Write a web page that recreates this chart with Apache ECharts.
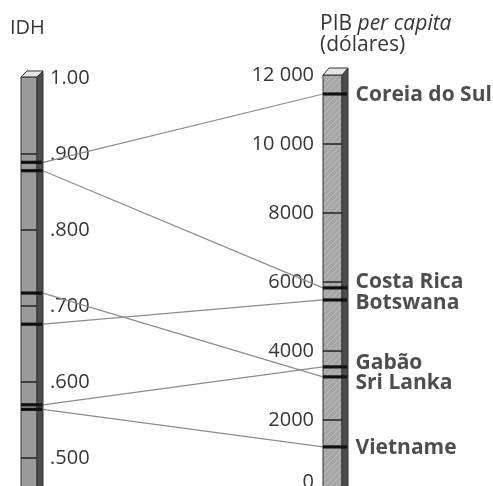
<!DOCTYPE html>
<html><head><meta charset="utf-8">
<script src="https://cdn.jsdelivr.net/npm/echarts@6/dist/echarts.min.js"></script>
<style>html,body{margin:0;padding:0;background:#fff;}#c{width:493px;height:486px;}</style>
</head><body><div id="c"></div>
<script>
// ---- data ----
const countries = ['Coreia do Sul', 'Costa Rica', 'Botswana', 'Gabão', 'Sri Lanka', 'Vietname'];
const idh = [0.889, 0.878, 0.676, 0.570, 0.717, 0.564];
const pib = [11450, 5830, 5480, 3540, 3250, 1220];
const idhTicks = [0.5, 0.6, 0.7, 0.8, 0.9, 1.0];
const idhTickLabels = ['.500', '.600', '.700', '.800', '.900', '1.00'];
const pibTicks = [0, 2000, 4000, 6000, 8000, 10000, 12000];
const pibTickLabels = ['0', '2000', '4000', '6000', '8000', '10 000', '12 000'];

// ---- styles ----
const FONT = 'Open Sans';
const TXT = '#363636';
const labelShift = [1, -6, 3, -4, 6, 1]; // vertical label nudges (px) to avoid overlap
const idhMin = 0.4592, idhMax = 1.0039;
const pibMin = 0, pibMax = 12000;

const pc = document.createElement('canvas'); pc.width = 6; pc.height = 6;
const g = pc.getContext('2d');
g.fillStyle = '#a6a6a6'; g.fillRect(0, 0, 6, 6);
g.strokeStyle = 'rgba(255,255,255,0.28)'; g.lineWidth = 1;
g.beginPath(); g.moveTo(-1, 7); g.lineTo(7, -1); g.stroke();
const hatch = { image: pc, repeat: 'repeat' };

const chart = echarts.init(document.getElementById('c'));

function bar3d(api, xLeft, frontW, sideW, depthY, yTop, yBot, frontFill, ticksY, marksY) {
  const fR = xLeft + frontW, sR = fR + sideW;
  const ch = [];
  ch.push({ type: 'rect', shape: { x: xLeft, y: yTop, width: frontW, height: yBot - yTop },
    style: { fill: frontFill, stroke: '#333', lineWidth: 1 } });
  ch.push({ type: 'polygon', shape: { points: [[fR, yTop], [sR, yTop - depthY], [sR, yBot], [fR, yBot]] },
    style: { fill: '#4d4d4d', stroke: '#333', lineWidth: 1 } });
  ch.push({ type: 'polygon', shape: { points: [[xLeft, yTop], [fR, yTop], [sR, yTop - depthY], [xLeft + sideW, yTop - depthY]] },
    style: { fill: '#e4e4e4', stroke: '#333', lineWidth: 1 } });
  ticksY.forEach(y => ch.push({ type: 'line', shape: { x1: xLeft, y1: y, x2: fR, y2: y },
    style: { stroke: '#222', lineWidth: 1.5 } }));
  marksY.forEach(y => ch.push({ type: 'line', shape: { x1: xLeft, y1: y, x2: sR - 1, y2: y },
    style: { stroke: '#111', lineWidth: 3.2 } }));
  return { type: 'group', children: ch };
}

const option = {
  animation: false,
  backgroundColor: '#fff',
  title: [
    { text: 'IDH', left: 10, top: 18, padding: 0,
      textStyle: { fontFamily: FONT, fontSize: 20, fontWeight: 'normal', color: TXT, lineHeight: 20 } },
    { text: '{n|PIB }{i|per capita}\n{n|(dólares)}', left: 320, top: 14, padding: 0,
      textStyle: { fontFamily: FONT, fontSize: 21, fontWeight: 'normal', color: TXT, lineHeight: 21,
        rich: {
          n: { fontFamily: FONT, fontSize: 21, color: TXT, lineHeight: 21 },
          i: { fontFamily: FONT, fontSize: 21, color: TXT, fontStyle: 'italic', lineHeight: 21 }
        } } }
  ],
  grid: { left: 43, right: 170, top: 75, height: 414, containLabel: false, outerBoundsMode: 'none' },
  xAxis: { type: 'value', min: 0, max: 1, show: false },
  yAxis: [
    { type: 'value', position: 'left', min: idhMin, max: idhMax,
      axisLine: { show: false }, axisTick: { show: false }, splitLine: { show: false },
      axisLabel: { inside: true, margin: 7, customValues: idhTicks,
        formatter: v => idhTickLabels[idhTicks.findIndex(t => Math.abs(t - v) < 1e-6)],
        fontFamily: FONT, fontSize: 20, color: TXT } },
    { type: 'value', position: 'right', min: pibMin, max: pibMax,
      axisLine: { show: false }, axisTick: { show: false }, splitLine: { show: false },
      axisLabel: { inside: true, margin: 9, customValues: pibTicks,
        formatter: v => { const s = pibTickLabels[pibTicks.indexOf(v)]; return v === 0 ? '{z|' + s + '}' : s; },
        fontFamily: FONT, fontSize: 20, color: TXT,
        rich: { z: { fontFamily: FONT, fontSize: 20, color: TXT, padding: [0, 0, 14, 0] } } } }
  ],
  series: [
    { // connecting lines
      type: 'custom', yAxisIndex: 1, silent: true, z: 2,
      data: countries.map((c, i) => [1, pib[i], idh[i]]),
      encode: { x: 0, y: 1 },
      renderItem: (params, api) => {
        const pR = api.coord([1, api.value(1)]);
        const xL = api.coord([0, api.value(1)])[0];
        const yL = chart.convertToPixel({ yAxisIndex: 0 }, api.value(2));
        return { type: 'line', shape: { x1: xL, y1: yL, x2: pR[0], y2: pR[1] },
          style: { stroke: '#8c8c8c', lineWidth: 1.2 } };
      }
    },
    { // IDH column
      type: 'custom', yAxisIndex: 0, silent: true, z: 3,
      data: [[0, 1.0]],
      renderItem: (params, api) => {
        const top = api.coord([0, 1.0]);
        const yBot = api.coord([0, idhMin])[1] + 2;
        const ticksY = idhTicks.filter(t => t < 1).map(t => api.coord([0, t])[1]);
        const marksY = idh.map(v => api.coord([0, v])[1]);
        return bar3d(api, top[0] - 22, 16, 6, 6, top[1] - 1, yBot, '#9a9a9a', ticksY, marksY);
      }
    },
    { // PIB column
      type: 'custom', yAxisIndex: 1, silent: true, z: 3,
      data: [[1, pibMax]],
      renderItem: (params, api) => {
        const top = api.coord([1, pibMax]);
        const yBot = api.coord([1, pibMin])[1] + 2;
        const ticksY = pibTicks.filter(t => t > 0 && t < pibMax).map(t => api.coord([1, t])[1]);
        const marksY = pib.map(v => api.coord([1, v])[1]);
        return bar3d(api, top[0], 19, 6, 7, top[1], yBot, hatch, ticksY, marksY);
      }
    },
    { // country labels
      type: 'scatter', yAxisIndex: 1, silent: true, z: 4,
      symbolSize: 1, itemStyle: { color: 'rgba(0,0,0,0)' },
      data: pib.map((v, i) => ({ value: [1, v], label: { offset: [0, labelShift[i]] } })),
      label: { show: true, position: 'right', distance: 32,
        formatter: p => countries[p.dataIndex],
        fontFamily: FONT, fontSize: 21, fontWeight: 'bold', color: '#222' }
    }
  ]
};
chart.setOption(option);
</script></body></html>
